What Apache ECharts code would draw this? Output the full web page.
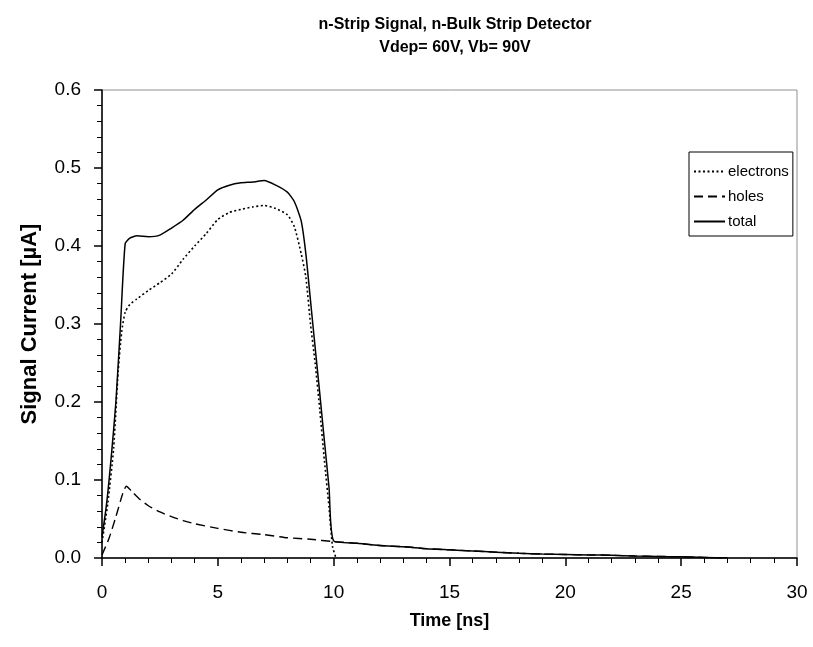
<!DOCTYPE html>
<html lang="en">
<head>
    <meta charset="UTF-8">
    <title>n-Strip Signal, n-Bulk Strip Detector</title>
    <script src="https://cdn.jsdelivr.net/npm/echarts@6.0.0/dist/echarts.min.js"></script>
    <style>
        body { margin: 0; background: #fff; }
        #chart { width: 813px; height: 647px; }
    </style>
</head>
<body>
    <div id="chart"></div>
    <script>
        // Values
        const electronTime = [0, 0.25, 0.5, 0.7, 0.85, 1.0, 1.2, 1.5, 2.0, 2.5, 3.0, 3.5, 4.0, 4.5, 5.0, 5.5, 6.0, 6.5, 7.0, 7.5, 8.0, 8.3, 8.6, 8.8, 9.0, 9.2, 9.4, 9.6, 9.8, 9.95, 10.1];
        const electronCurrent = [0.02, 0.07, 0.14, 0.24, 0.29, 0.315, 0.325, 0.332, 0.343, 0.353, 0.364, 0.383, 0.4, 0.416, 0.434, 0.443, 0.447, 0.45, 0.452, 0.448, 0.44, 0.425, 0.39, 0.36, 0.3, 0.25, 0.19, 0.125, 0.065, 0.015, 0];

        const holeTime = [0, 0.3, 0.6, 0.9, 1.05, 1.3, 1.6, 2.0, 2.5, 3.0, 3.5, 4.0, 5.0, 6.0, 7.0, 8.0, 9.0, 10.0, 11, 12, 13, 14, 15, 16, 17, 18, 19, 20, 21, 22, 23, 24, 25, 26, 27];
        const holeCurrent = [0.004, 0.025, 0.053, 0.083, 0.092, 0.085, 0.076, 0.067, 0.059, 0.053, 0.048, 0.044, 0.038, 0.033, 0.03, 0.026, 0.024, 0.021, 0.019, 0.016, 0.0145, 0.012, 0.0105, 0.009, 0.0075, 0.006, 0.005, 0.0045, 0.004, 0.0035, 0.0025, 0.002, 0.0015, 0.0008, 0];

        const totalTime = [0, 0.2, 0.4, 0.6, 0.8, 1.0, 1.2, 1.5, 2.0, 2.5, 3.0, 3.5, 4.0, 4.5, 5.0, 5.5, 6.0, 6.5, 7.0, 7.5, 8.0, 8.3, 8.6, 8.8, 9.0, 9.2, 9.4, 9.6, 9.8, 10.0, 11, 12, 13, 14, 15, 16, 17, 18, 19, 20, 21, 22, 23, 24, 25, 26, 27];
        const totalCurrent = [0.027, 0.07, 0.13, 0.2, 0.3, 0.403, 0.41, 0.413, 0.412, 0.414, 0.423, 0.433, 0.447, 0.459, 0.472, 0.478, 0.481, 0.482, 0.484, 0.478, 0.469, 0.457, 0.432, 0.39, 0.33, 0.27, 0.211, 0.15, 0.09, 0.022, 0.019, 0.016, 0.0145, 0.012, 0.0105, 0.009, 0.0075, 0.006, 0.005, 0.0045, 0.004, 0.0035, 0.0025, 0.002, 0.0015, 0.0008, 0];

        const xTicks = [0, 5, 10, 15, 20, 25, 30];
        const yTicks = [0.0, 0.1, 0.2, 0.3, 0.4, 0.5, 0.6];

        function pairs(xs, ys) {
            return xs.map((x, i) => [x, ys[i]]);
        }

        const font = "'Liberation Sans', Arial, sans-serif";
        const chart = echarts.init(document.getElementById('chart'));

        chart.setOption({
            animation: false,
            title: {
                text: 'n-Strip Signal, n-Bulk Strip Detector\nVdep= 60V, Vb= 90V',
                left: 450,
                top: 8,
                textAlign: 'center',
                textStyle: {
                    fontFamily: font,
                    fontSize: 16,
                    fontWeight: 'bold',
                    color: '#000',
                    lineHeight: 23
                }
            },
            legend: {
                orient: 'vertical',
                left: 689,
                top: 152,
                itemWidth: 31,
                itemHeight: 14,
                itemGap: 10,
                padding: [12, 4, 7, 4],
                borderColor: '#000',
                borderWidth: 1,
                itemStyle: { opacity: 0 },
                textStyle: { fontFamily: font, fontSize: 15, color: '#000', padding: [0, 0, 0, -2] },
                data: ['electrons', 'holes', 'total']
            },
            grid: {
                left: 102,
                right: 16,
                top: 90,
                bottom: 89,
                show: true,
                borderColor: '#909090',
                borderWidth: 1
            },
            xAxis: {
                type: 'value',
                min: xTicks[0],
                max: xTicks[xTicks.length - 1],
                interval: 5,
                name: 'Time [ns]',
                nameLocation: 'middle',
                nameGap: 54,
                nameTextStyle: { fontFamily: font, fontSize: 18, fontWeight: 'bold', color: '#000' },
                axisLine: { lineStyle: { color: '#000', width: 1.5 } },
                axisTick: { length: 8, lineStyle: { color: '#000', width: 1.5 } },
                minorTick: { show: true, splitNumber: 5, length: 5, lineStyle: { color: '#000', width: 1 } },
                axisLabel: { margin: 25, fontFamily: font, fontSize: 19, color: '#000' },
                splitLine: { show: false }
            },
            yAxis: {
                type: 'value',
                min: yTicks[0],
                max: yTicks[yTicks.length - 1],
                interval: 0.1,
                name: 'Signal Current [\u00b5A]',
                nameLocation: 'middle',
                nameGap: 61,
                nameTextStyle: { fontFamily: font, fontSize: 22, fontWeight: 'bold', color: '#000' },
                axisLine: { show: true, lineStyle: { color: '#000', width: 1.5 } },
                axisTick: { show: true, length: 8, lineStyle: { color: '#000', width: 1.5 } },
                minorTick: { show: true, splitNumber: 5, length: 5, lineStyle: { color: '#000', width: 1 } },
                axisLabel: {
                    margin: 21,
                    fontFamily: font,
                    fontSize: 19,
                    color: '#000',
                    formatter: v => v.toFixed(1)
                },
                splitLine: { show: false }
            },
            series: [
                {
                    name: 'electrons',
                    type: 'line',
                    symbol: 'none',
                    smooth: 0.2,
                    data: pairs(electronTime, electronCurrent),
                    lineStyle: { color: '#000', width: 1.6, type: [2, 2.5] },
                    itemStyle: { color: '#000' }
                },
                {
                    name: 'holes',
                    type: 'line',
                    symbol: 'none',
                    smooth: 0.2,
                    data: pairs(holeTime, holeCurrent),
                    lineStyle: { color: '#000', width: 1.4, type: [9, 5] },
                    itemStyle: { color: '#000' }
                },
                {
                    name: 'total',
                    type: 'line',
                    symbol: 'none',
                    smooth: 0.2,
                    data: pairs(totalTime, totalCurrent),
                    lineStyle: { color: '#000', width: 1.5 },
                    itemStyle: { color: '#000' }
                }
            ]
        });
    </script>
</body>
</html>
